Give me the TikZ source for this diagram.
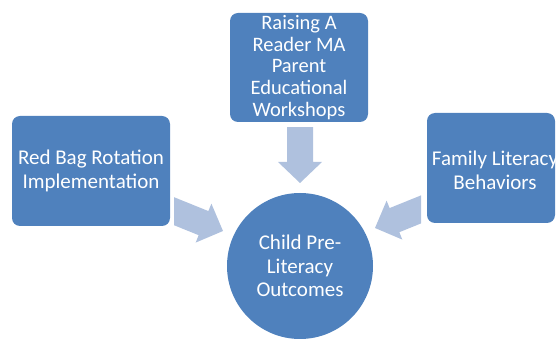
\documentclass[tikz,border=0pt]{standalone}
\usepackage{fontspec}
\setmainfont{Carlito}
\definecolor{boxblue}{HTML}{4F81BD}
\definecolor{arrowblue}{HTML}{AFC1DE}
\begin{document}
\begin{tikzpicture}[x=1pt,y=-1pt,
  block/.style={fill=boxblue, rounded corners=8pt, inner sep=0pt, text=white,
    align=center, font=\fontsize{21}{24}\selectfont},
  hub/.style={circle, fill=boxblue, inner sep=0pt, minimum size=146pt, text=white,
    align=center, font=\fontsize{21}{23.5}\selectfont},
  label text/.style={text=white, align=center, inner sep=0pt},
  blockarrow/.style={fill=arrowblue}]
\useasboundingbox (0,0) rectangle (558,339);

% block arrow outline with its tip at the origin, pointing along +x
\newcommand\arrowbody{(0,0) -- (-21,-21) -- (-21,-13) -- (-70,-13) -- (-70,13) -- (-21,13) -- (-21,21) -- cycle}

% arrows pointing to the hub
\begin{scope}
  \clip (174,0) rectangle (558,339);
  \begin{scope}[shift={(223,231)}, rotate=-22]
    \fill[blockarrow] \arrowbody;
  \end{scope}
\end{scope}
\begin{scope}
  \clip (0,0) rectangle (421,339);
  \begin{scope}[shift={(375,228)}, rotate=-158]
    \fill[blockarrow] \arrowbody;
  \end{scope}
\end{scope}
\begin{scope}
  \clip (0,128) rectangle (558,339);
  \begin{scope}[shift={(300,183)}, rotate=-90]
    \fill[blockarrow] (0,0) -- (-21,-22) -- (-21,-13) -- (-60,-13) -- (-60,13) -- (-21,13) -- (-21,22) -- cycle;
  \end{scope}
\end{scope}

% source boxes
\node[block, minimum width=158pt, minimum height=110pt] (rbr) at (91,171)
  {Red Bag Rotation\\Implementation};
\node[block, minimum width=138pt, minimum height=109pt,
  font=\fontsize{20.5}{21.7}\selectfont] (rar) at (299,67.5)
  {Raising A\\Reader MA\\Parent\\Educational\\Workshops};
\node[block, minimum width=128pt, minimum height=110pt] (flb) at (491,168) {};
\node[label text, font=\fontsize{21}{24}\selectfont] (flbtext) at (495,170)
  {Family Literacy\\Behaviors};

% outcome
\node[hub] (out) at (300,266) {Child Pre-\\Literacy\\Outcomes};
\end{tikzpicture}
\end{document}
